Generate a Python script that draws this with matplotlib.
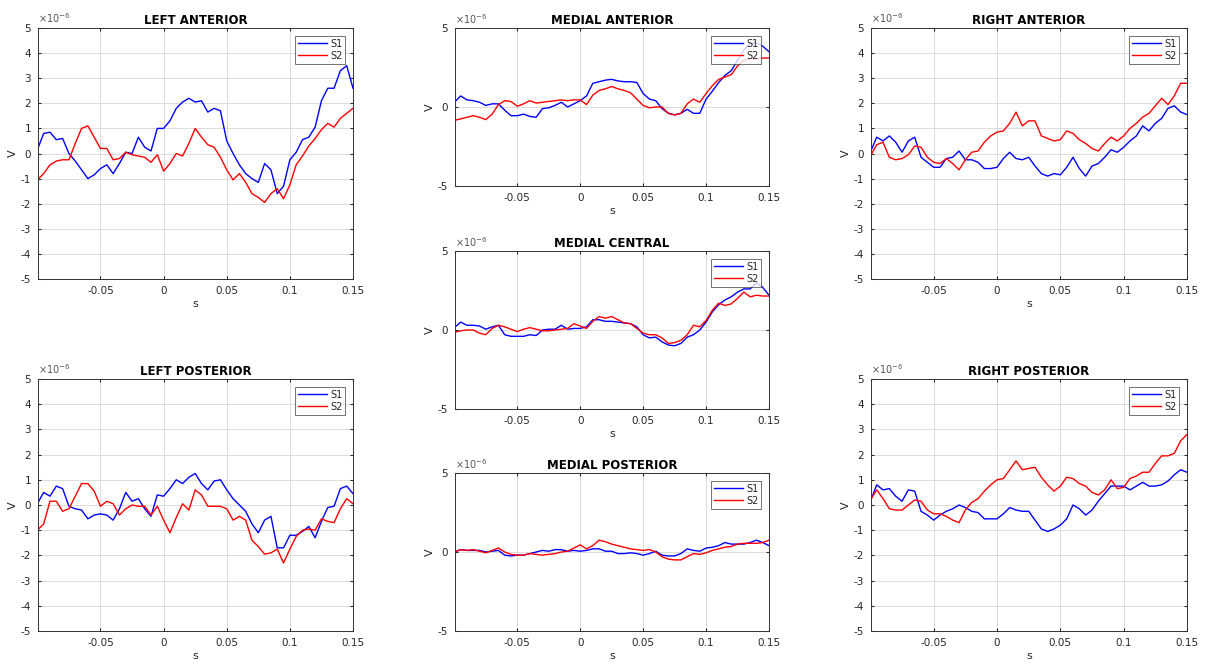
import numpy as np
import matplotlib.pyplot as plt

plt.rcParams['axes.unicode_minus'] = False

# time axis (s), 5 ms steps
t = np.arange(51) * 0.005 - 0.1

# amplitudes in units of 1e-6 V
la_s1 = [0.15, 0.8, 0.85, 0.55, 0.6, 0, -0.3, -0.65, -1.0, -0.85, -0.6, -0.45, -0.8, -0.4, 0.05, 0,
         0.65, 0.25, 0.1, 1.0, 1.0, 1.3, 1.8, 2.05, 2.2, 2.05, 2.1, 1.65, 1.8, 1.7, 0.5, 0, -0.45,
         -0.8, -1.0, -1.15, -0.4, -0.65, -1.6, -1.3, -0.25, 0.05, 0.55, 0.65, 1.05, 2.1, 2.6, 2.6,
         3.3, 3.5, 2.6]
la_s2 = [-1.05, -0.8, -0.45, -0.3, -0.25, -0.25, 0.4, 1.0, 1.1, 0.65, 0.2, 0.2, -0.25, -0.2, 0.05,
         -0.05, -0.1, -0.15, -0.35, -0.05, -0.7, -0.4, 0, -0.1, 0.4, 1.0, 0.65, 0.35, 0.25, -0.15,
         -0.65, -1.05, -0.8, -1.15, -1.6, -1.75, -1.95, -1.6, -1.4, -1.8, -1.25, -0.45, -0.1, 0.3,
         0.6, 0.95, 1.2, 1.05, 1.4, 1.6, 1.8]

lp_s1 = [0.05, 0.5, 0.35, 0.75, 0.65, -0.05, -0.15, -0.2, -0.55, -0.4, -0.35, -0.4, -0.6, -0.15,
         0.5, 0.15, 0.25, -0.15, -0.45, 0.4, 0.35, 0.65, 1.0, 0.85, 1.1, 1.25, 0.85, 0.6, 0.95, 1.0,
         0.6, 0.25, 0, -0.25, -0.75, -1.1, -0.6, -0.45, -1.7, -1.7, -1.2, -1.2, -1.05, -0.85, -1.3,
         -0.65, -0.1, -0.05, 0.65, 0.75, 0.45]
lp_s2 = [-1.0, -0.75, 0.15, 0.15, -0.25, -0.15, 0.35, 0.85, 0.85, 0.55, -0.05, 0.15, 0.05, -0.4,
         -0.15, 0, -0.05, -0.05, -0.4, -0.05, -0.6, -1.1, -0.5, 0.05, -0.2, 0.6, 0.4, -0.05, -0.05,
         -0.05, -0.15, -0.6, -0.45, -0.6, -1.4, -1.65, -1.95, -1.9, -1.75, -2.3, -1.75, -1.25, -1.0,
         -0.95, -1.0, -0.55, -0.65, -0.7, -0.15, 0.25, 0.05]

ma_s1 = [0.3, 0.7, 0.45, 0.4, 0.3, 0.1, 0.2, 0.2, -0.2, -0.55, -0.55, -0.45, -0.6, -0.65, -0.1,
         -0.05, 0.1, 0.3, 0, 0.2, 0.4, 0.7, 1.5, 1.6, 1.7, 1.75, 1.65, 1.6, 1.6, 1.55, 0.85, 0.5,
         0.4, -0.1, -0.4, -0.5, -0.4, -0.15, -0.4, -0.4, 0.5, 1.0, 1.55, 2.0, 2.3, 2.95, 3.6, 4.0,
         4.05, 3.85, 3.5]
ma_s2 = [-0.85, -0.75, -0.65, -0.55, -0.65, -0.8, -0.45, 0.15, 0.4, 0.35, 0.05, 0.2, 0.4, 0.25,
         0.3, 0.35, 0.4, 0.45, 0.4, 0.45, 0.45, 0.15, 0.75, 1.05, 1.15, 1.3, 1.15, 1.05, 0.9, 0.5,
         0.1, -0.05, 0, 0, -0.4, -0.5, -0.4, 0.2, 0.5, 0.3, 0.85, 1.35, 1.75, 1.9, 2.05, 2.6, 2.95,
         3.05, 3.05, 3.1, 3.1]

mc_s1 = [0.15, 0.5, 0.3, 0.3, 0.25, 0.05, 0.2, 0.3, -0.3, -0.4, -0.4, -0.4, -0.3, -0.35, 0, 0.05,
         0.05, 0.3, 0.05, 0.1, 0.1, 0.2, 0.65, 0.65, 0.55, 0.55, 0.5, 0.45, 0.4, 0.2, -0.3, -0.5,
         -0.45, -0.75, -0.95, -1.0, -0.85, -0.45, -0.3, 0, 0.5, 1.15, 1.6, 1.9, 2.1, 2.4, 2.6, 2.6,
         3.0, 2.7, 2.2]
mc_s2 = [-0.15, -0.05, 0, 0, -0.2, -0.3, 0.1, 0.3, 0.2, 0.05, -0.1, 0.05, 0.15, 0.05, -0.05, -0.05,
         0, 0.05, 0.1, 0.4, 0.25, 0.1, 0.55, 0.85, 0.75, 0.85, 0.65, 0.45, 0.4, 0.1, -0.2, -0.3,
         -0.3, -0.5, -0.85, -0.8, -0.65, -0.3, 0.3, 0.2, 0.6, 1.25, 1.7, 1.55, 1.65, 2.0, 2.4, 2.1,
         2.2, 2.15, 2.15]

mp_s1 = [0, 0.15, 0.1, 0.1, 0.1, 0, 0.05, 0.1, -0.2, -0.25, -0.2, -0.2, -0.1, 0, 0.1, 0.05, 0.15,
         0.15, 0.05, 0.1, 0.05, 0.1, 0.2, 0.2, 0.05, 0.05, -0.1, -0.1, -0.05, -0.1, -0.2, -0.1, 0.05,
         -0.2, -0.25, -0.25, -0.1, 0.2, 0.1, 0.05, 0.25, 0.3, 0.4, 0.6, 0.5, 0.5, 0.5, 0.6, 0.75,
         0.6, 0.4]
mp_s2 = [0, 0.15, 0.1, 0.15, 0.05, -0.05, 0.1, 0.25, 0, -0.15, -0.2, -0.2, -0.1, -0.15, -0.2,
         -0.15, -0.1, 0, 0.05, 0.25, 0.45, 0.2, 0.4, 0.75, 0.65, 0.5, 0.4, 0.3, 0.2, 0.15, 0.1, 0.15,
         0, -0.3, -0.45, -0.5, -0.5, -0.3, -0.1, -0.15, -0.05, 0.1, 0.2, 0.3, 0.35, 0.5, 0.55, 0.55,
         0.55, 0.6, 0.75]

ra_s1 = [0.05, 0.65, 0.5, 0.7, 0.45, 0.05, 0.5, 0.65, -0.15, -0.35, -0.55, -0.55, -0.2, -0.15, 0.1,
         -0.25, -0.25, -0.35, -0.6, -0.6, -0.55, -0.2, 0.05, -0.2, -0.25, -0.15, -0.5, -0.8, -0.9,
         -0.8, -0.85, -0.55, -0.15, -0.6, -0.9, -0.5, -0.4, -0.15, 0.15, 0.05, 0.25, 0.5, 0.7, 1.1,
         0.9, 1.2, 1.4, 1.8, 1.9, 1.65, 1.55]
ra_s2 = [-0.1, 0.35, 0.45, -0.15, -0.25, -0.2, -0.05, 0.3, 0.25, -0.15, -0.35, -0.4, -0.2, -0.4,
         -0.65, -0.25, 0.05, 0.1, 0.45, 0.7, 0.85, 0.9, 1.2, 1.65, 1.1, 1.3, 1.3, 0.7, 0.6, 0.5,
         0.55, 0.9, 0.8, 0.55, 0.4, 0.2, 0.1, 0.4, 0.65, 0.5, 0.7, 1.0, 1.2, 1.45, 1.6, 1.9, 2.2,
         1.95, 2.3, 2.8, 2.8]

rp_s1 = [0.15, 0.8, 0.6, 0.65, 0.35, 0.15, 0.6, 0.55, -0.25, -0.4, -0.6, -0.4, -0.25, -0.15, 0,
         -0.1, -0.25, -0.3, -0.55, -0.55, -0.55, -0.35, -0.1, -0.2, -0.25, -0.25, -0.6, -0.95, -1.05,
         -0.95, -0.8, -0.55, 0, -0.15, -0.4, -0.2, 0.15, 0.45, 0.75, 0.75, 0.75, 0.6, 0.75, 0.9,
         0.75, 0.75, 0.8, 0.95, 1.2, 1.4, 1.3]
rp_s2 = [0.2, 0.6, 0.25, -0.15, -0.2, -0.2, 0, 0.2, 0.15, -0.2, -0.35, -0.35, -0.45, -0.6, -0.7,
         -0.2, 0.1, 0.25, 0.55, 0.8, 1.0, 1.05, 1.4, 1.75, 1.4, 1.45, 1.5, 1.1, 0.8, 0.55, 0.75,
         1.1, 1.05, 0.85, 0.75, 0.5, 0.4, 0.6, 1.0, 0.65, 0.7, 1.05, 1.15, 1.3, 1.3, 1.65, 1.95,
         1.95, 2.05, 2.55, 2.8]

W, H = 1205, 664
panels = [
    # title, s1, s2, (left, top, right, bottom) in px, full y ticks?
    ("LEFT ANTERIOR", la_s1, la_s2, (38, 28, 353, 279), True),
    ("LEFT POSTERIOR", lp_s1, lp_s2, (38, 379, 353, 631), True),
    ("MEDIAL ANTERIOR", ma_s1, ma_s2, (455, 28, 769, 186), False),
    ("MEDIAL CENTRAL", mc_s1, mc_s2, (455, 251, 769, 409), False),
    ("MEDIAL POSTERIOR", mp_s1, mp_s2, (455, 473, 769, 631), False),
    ("RIGHT ANTERIOR", ra_s1, ra_s2, (871, 28, 1187, 279), True),
    ("RIGHT POSTERIOR", rp_s1, rp_s2, (871, 379, 1187, 631), True),
]

fig = plt.figure(figsize=(W / 100, H / 100), dpi=100)
grey = '#262626'

for title, s1, s2, (l, tp, r, b), full in panels:
    ax = fig.add_axes([l / W, 1 - b / H, (r - l) / W, (b - tp) / H])
    ax.plot(t, s1, color='b', lw=1.0, label='S1')
    ax.plot(t, s2, color='r', lw=1.0, label='S2')
    ax.set_xlim(-0.0995, 0.15)
    ax.set_ylim(-5, 5)
    ax.set_xticks([-0.05, 0, 0.05, 0.1, 0.15])
    ax.set_xticklabels(['-0.05', '0', '0.05', '0.1', '0.15'])
    if full:
        ax.set_yticks(range(-5, 6))
    else:
        ax.set_yticks([-5, 0, 5])
    # exponent label like MATLAB's "x10^-6"
    ax.text(0.0, 1.012, r'$\times10^{-6}$', transform=ax.transAxes,
            fontsize=7, color='#555555', ha='left', va='bottom')
    ax.grid(True, color='#dcdcdc', lw=0.7)
    ax.tick_params(direction='in', length=2.5, labelsize=7.5, colors=grey,
                   top=True, right=True, pad=5)
    for sp in ax.spines.values():
        sp.set_color('#333333')
        sp.set_linewidth(0.7)
    ax.set_title(title, fontsize=8.5, fontweight='bold', pad=3)
    ax.set_xlabel('s', fontsize=8, color=grey, labelpad=2)
    ax.set_ylabel('V', fontsize=8, color=grey, labelpad=2)
    leg = ax.legend(loc='upper right', fontsize=7, handlelength=3, fancybox=False,
                    borderpad=0.3, labelspacing=0.2, handletextpad=0.3,
                    borderaxespad=0.8)
    leg.get_frame().set_edgecolor('#333333')
    leg.get_frame().set_linewidth(0.6)
    for txt in leg.get_texts():
        txt.set_color(grey)

fig.savefig('out.png', dpi=100, facecolor='white')
